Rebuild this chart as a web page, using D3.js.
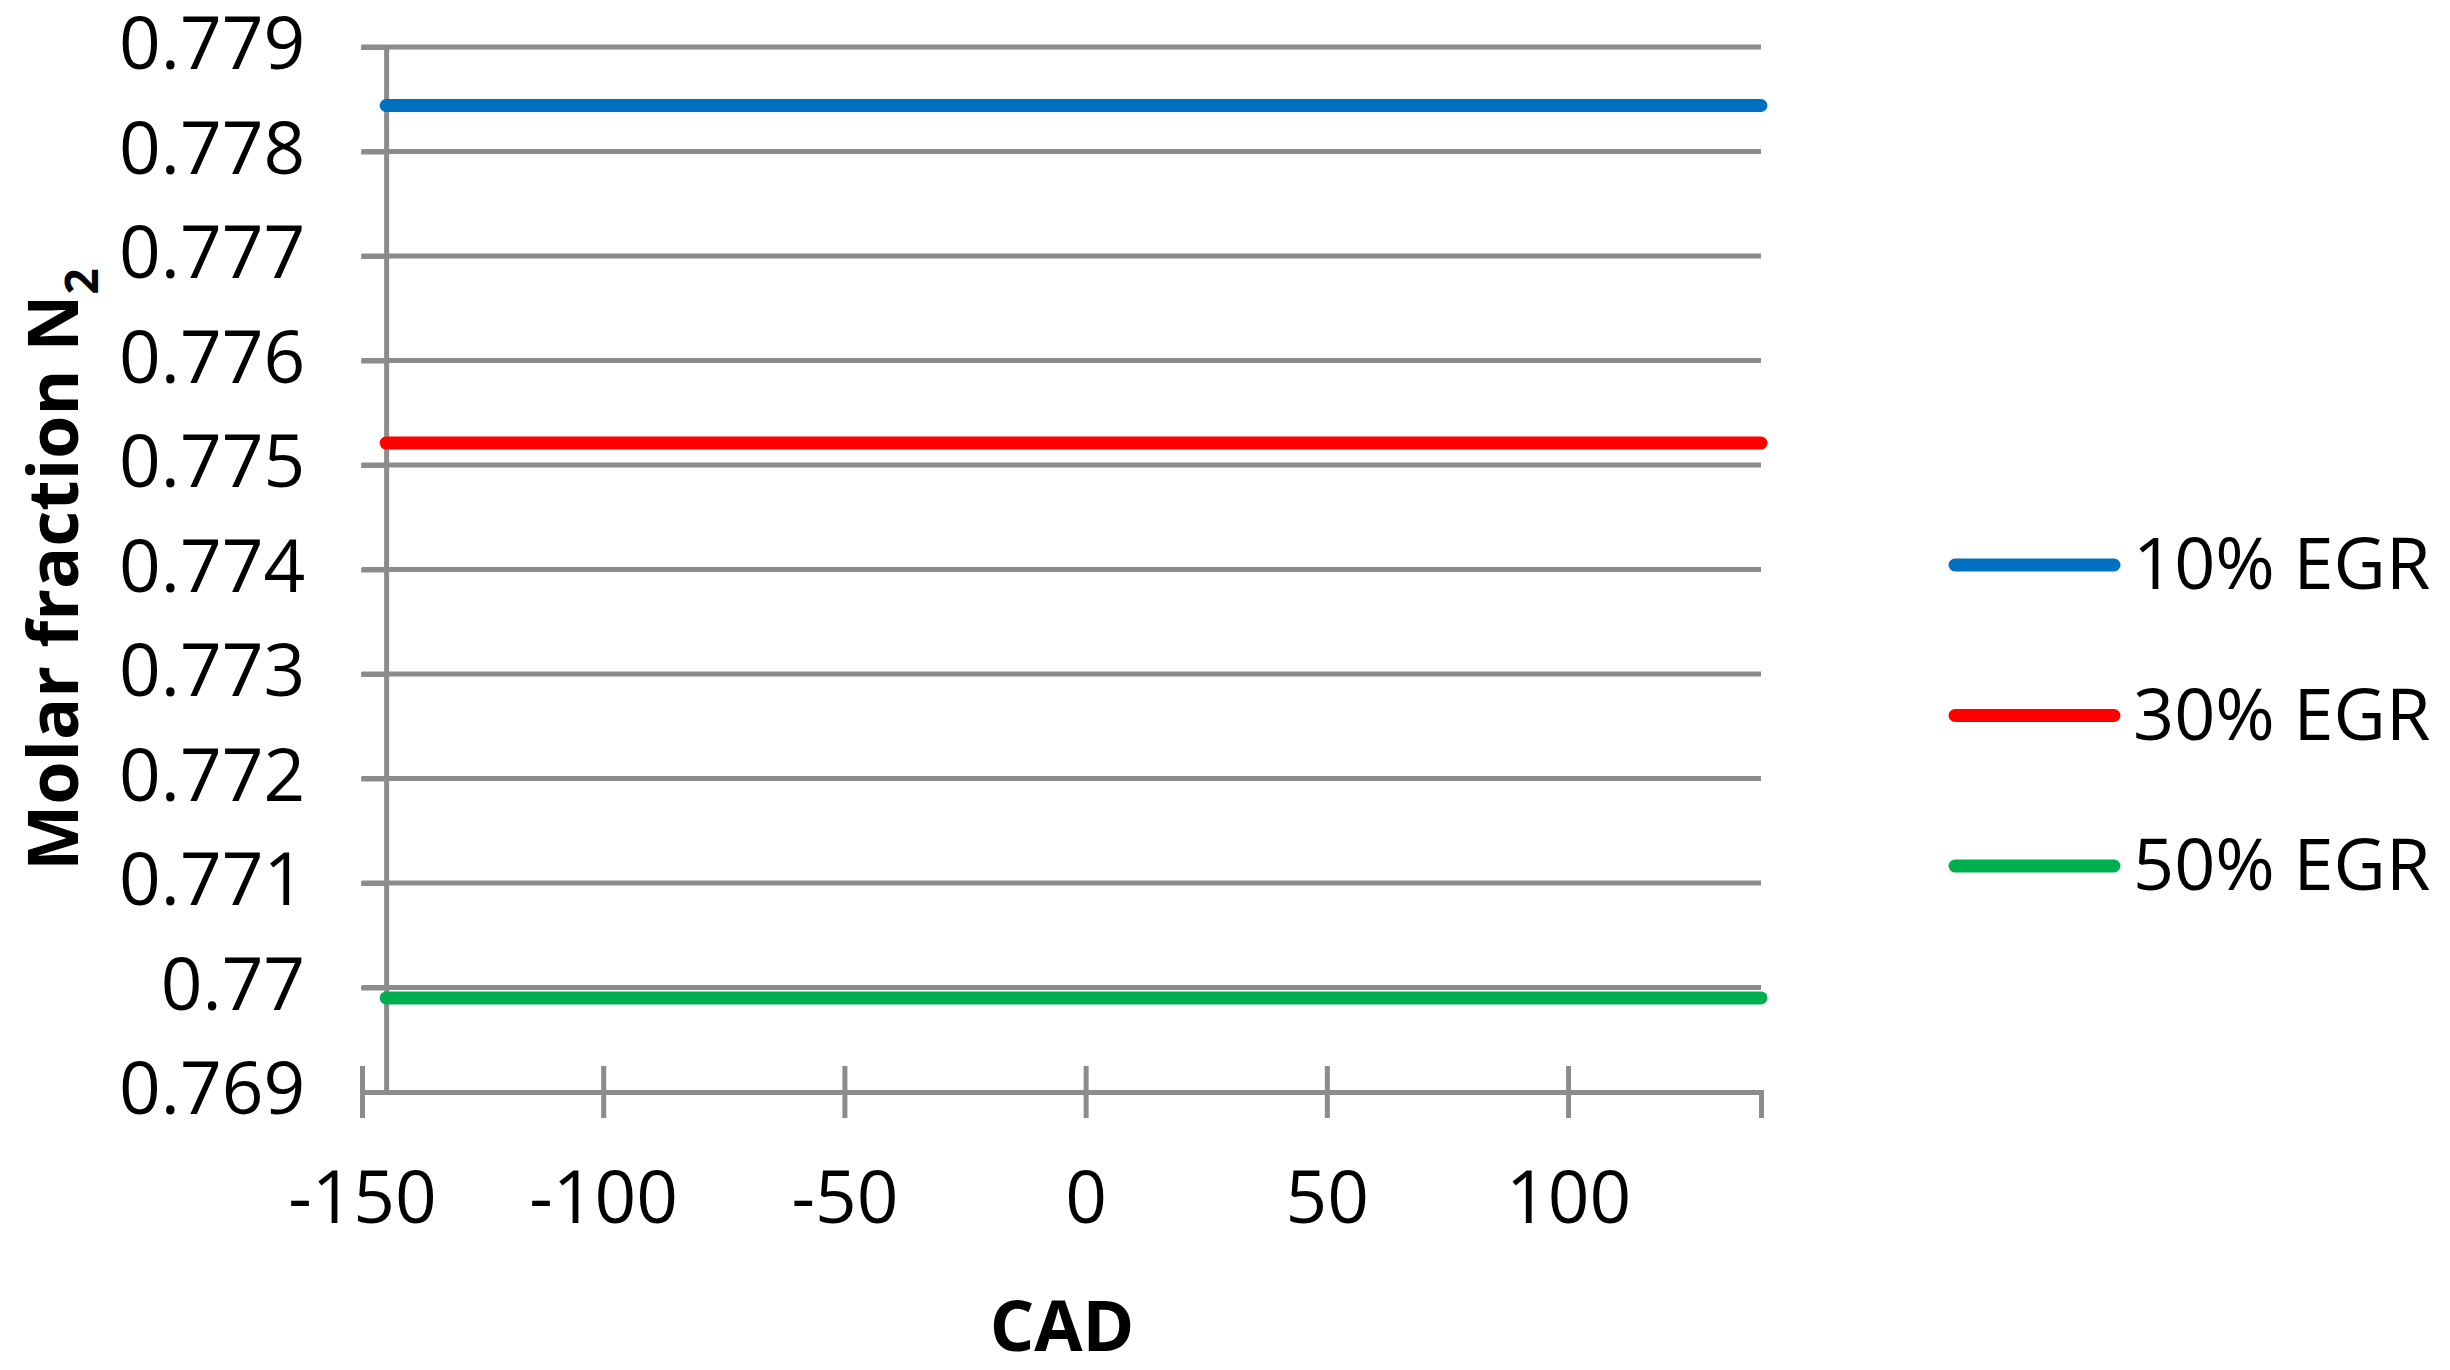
<!DOCTYPE html>
<html>
<head>
<meta charset="utf-8">
<script src="https://cdn.jsdelivr.net/npm/d3@7"></script>
<style>
    body { margin: 0; background: #fff; }
    text { font-family: 'Open Sans', 'Noto Sans', sans-serif; fill: #000; }
</style>
</head>
<body>
<div id="chart"></div>
<script>
// Molar fraction of N2 vs crank angle, three EGR rates

const cad = [-145, 140];
const egr10 = [0.77844, 0.77844];
const egr30 = [0.77521, 0.77521];
const egr50 = [0.76990, 0.76990];

const seriesNames = ['10% EGR', '30% EGR', '50% EGR'];
const seriesColors = ['#0070C0', '#FF0000', '#00B050'];

const xTicks = [-150, -100, -50, 0, 50, 100];
const yTicks = [0.769, 0.770, 0.771, 0.772, 0.773, 0.774, 0.775, 0.776, 0.777, 0.778, 0.779];

function drawChart() {
    const W = 2450, H = 1370;
    const gridColor = '#8c8c8c';

    const svg = d3.select('#chart').append('svg')
        .attr('width', W)
        .attr('height', H);

    // Scales
    const x = d3.scaleLinear()
        .domain([-150, 140])
        .range([362, 1761]);

    const y = d3.scaleLinear()
        .domain([0.769, 0.779])
        .range([1092, 47]);

    const fmt = d => String(+d.toFixed(3));

    // Horizontal grid
    svg.append('g')
        .selectAll('line')
        .data(yTicks.filter(d => d > 0.769))
        .enter()
        .append('line')
        .attr('x1', x(-150))
        .attr('x2', x(140))
        .attr('y1', d => y(d))
        .attr('y2', d => y(d))
        .attr('stroke', gridColor)
        .attr('stroke-width', 5);

    // X axis (cross ticks)
    const xAxis = svg.append('g')
        .attr('transform', `translate(0,${y(0.769)})`)
        .call(d3.axisBottom(x)
            .tickValues(xTicks)
            .tickSizeOuter(0)
            .tickSize(26)
            .tickPadding(53)
            .tickFormat(fmt));

    xAxis.select('.domain')
        .attr('stroke', gridColor)
        .attr('stroke-width', 5);
    xAxis.selectAll('.tick line')
        .attr('stroke', gridColor)
        .attr('stroke-width', 5)
        .attr('y1', -26)
        .attr('y2', 26);
    xAxis.selectAll('.tick text')
        .attr('font-size', '73px')
        .attr('font-family', "'Open Sans', sans-serif");

    // Y axis
    const yAxis = svg.append('g')
        .attr('transform', `translate(${x(-145)},0)`)
        .call(d3.axisLeft(y)
            .tickValues(yTicks)
            .tickSizeOuter(0)
            .tickSize(25)
            .tickPadding(56)
            .tickFormat(fmt));

    yAxis.select('.domain')
        .attr('stroke', gridColor)
        .attr('stroke-width', 5);
    yAxis.selectAll('.tick line')
        .attr('stroke', gridColor)
        .attr('stroke-width', 5);
    yAxis.selectAll('.tick text')
        .attr('font-size', '73px')
        .attr('font-family', "'Open Sans', sans-serif")
        .attr('dy', '0.3em');

    // Series lines
    const series = [egr10, egr30, egr50];
    const line = d3.line()
        .x((d, i) => x(cad[i]))
        .y(d => y(d));

    svg.append('g')
        .selectAll('path')
        .data(series)
        .enter()
        .append('path')
        .attr('d', d => line(d))
        .attr('fill', 'none')
        .attr('stroke', (d, i) => seriesColors[i])
        .attr('stroke-width', 13)
        .attr('stroke-linecap', 'round');

    // Axis titles
    svg.append('text')
        .attr('x', 1062)
        .attr('y', 1351)
        .attr('text-anchor', 'middle')
        .attr('font-size', '70px')
        .attr('font-weight', 'bold')
        .text('CAD');

    const yTitle = svg.append('text')
        .attr('transform', `translate(78,${(y(0.769) + y(0.779)) / 2}) rotate(-90)`)
        .attr('text-anchor', 'middle')
        .attr('font-size', '70px')
        .attr('font-weight', 'bold');
    yTitle.append('tspan').text('Molar fraction N');
    yTitle.append('tspan')
        .attr('font-size', '46px')
        .attr('dy', 20)
        .text('2');

    // Legend
    const legend = svg.append('g')
        .selectAll('g')
        .data(seriesNames)
        .enter()
        .append('g')
        .attr('transform', (d, i) => `translate(1955,${565 + i * 150.5})`);

    legend.append('line')
        .attr('x1', 0)
        .attr('x2', 159)
        .attr('stroke', (d, i) => seriesColors[i])
        .attr('stroke-width', 13)
        .attr('stroke-linecap', 'round');

    legend.append('text')
        .attr('x', 178)
        .attr('y', 24)
        .attr('font-size', '72px')
        .text(d => d);
}

drawChart();
</script>
</body>
</html>
